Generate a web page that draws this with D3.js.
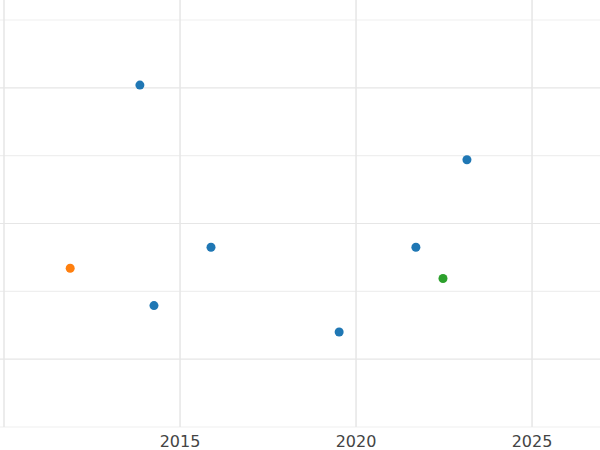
<!DOCTYPE html>
<html><head><meta charset="utf-8">
<script src="https://cdn.jsdelivr.net/npm/d3@7"></script>
<style>body{margin:0;background:#fff}</style></head>
<body><svg id="chart" width="600" height="450"></svg>
<script>
var years = [2013.86, 2023.15, 2015.88, 2021.7, 2011.88, 2022.47, 2014.26, 2019.52]
var values = [5.04, 3.94, 2.65, 2.65, 2.34, 2.19, 1.79, 1.40]
var groups = ["a", "a", "a", "a", "b", "c", "a", "a"]
var xTicks = [2015, 2020, 2025]
var xGrid = [2010, 2015, 2020, 2025]
var yGrid = [0, 1, 2, 3, 4, 5, 6]

var svg = d3.select("#chart")

var x = d3.scaleLinear().domain([2009.886, 2026.93]).range([0, 600])
var y = d3.scaleLinear().domain([0, 6]).range([427, 20])
var color = d3.scaleOrdinal().domain(["a", "b", "c"]).range(["#1f77b4", "#ff7f0e", "#2ca02c"])

svg.selectAll(".hg").data(yGrid).enter().append("line")
    .attr("x1", 0).attr("x2", 600)
    .attr("y1", function(d){ return y(d) }).attr("y2", function(d){ return y(d) })
    .attr("stroke", function(d){ return d % 2 ? "#e6e6e6" : "#efefef" }).attr("stroke-width", 1.2)

svg.selectAll(".vg").data(xGrid).enter().append("line")
    .attr("y1", 0).attr("y2", 427)
    .attr("x1", function(d){ return x(d) }).attr("x2", function(d){ return x(d) })
    .attr("stroke", "#e6e6e6").attr("stroke-width", 1.5)

svg.selectAll(".tl").data(xTicks).enter().append("text")
    .attr("x", function(d){ return x(d) }).attr("y", 447)
    .attr("text-anchor", "middle")
    .attr("font-family", "DejaVu Sans").attr("font-size", "16px").attr("fill", "#444")
    .text(function(d){ return d })

svg.selectAll("circle").data(years).enter().append("circle")
    .attr("cx", function(d){ return x(d) })
    .attr("cy", function(d, i){ return y(values[i]) })
    .attr("r", 4.5)
    .attr("fill", function(d, i){ return color(groups[i]) })
</script></body></html>
